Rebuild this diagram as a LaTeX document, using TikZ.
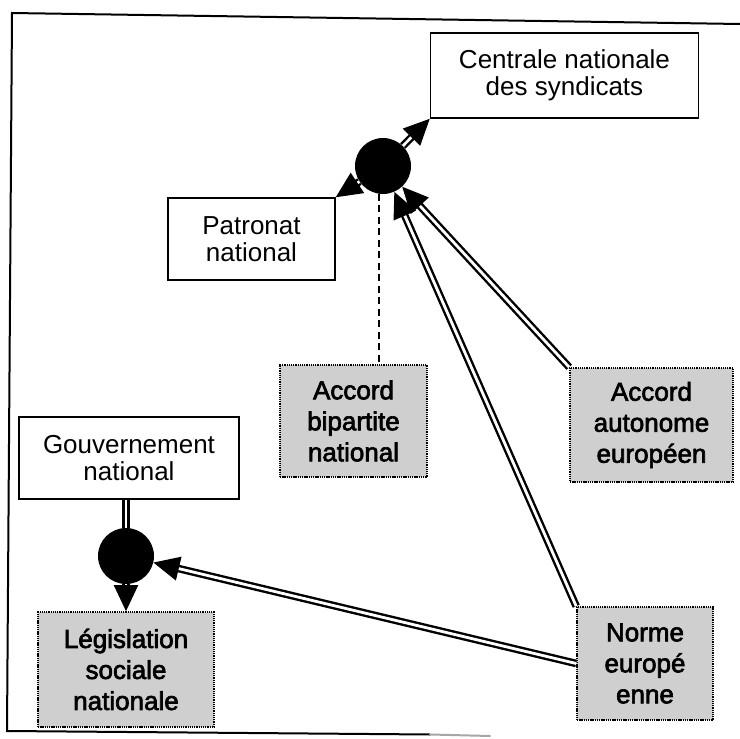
\documentclass[tikz,border=0pt]{standalone}
\usepackage{fontspec}
\setmainfont{Liberation Sans}
\newfontfamily\graytext{Liberation Sans}[FakeBold=2.5]
\usetikzlibrary{arrows.meta,calc}
\tikzset{
  bigtip/.tip={Triangle[length=26pt,width=24pt]},
}
\begin{document}
\begin{tikzpicture}[x=1pt,y=-1pt,
  plainbox/.style={draw=black, line width=1.5pt, fill=white, align=center,
    font=\fontsize{26}{27}\selectfont, inner sep=0pt},
  graybox/.style={draw=black, line width=1.6pt, dash pattern=on 1.3pt off 0.9pt,
    fill=gray!38, align=center, font=\graytext\fontsize{26}{31}\selectfont, inner sep=0pt},
  hub/.style={circle, fill=black, minimum size=56pt, inner sep=0pt},
  dbl/.style={double=white, double distance=2.8pt, line width=2.4pt},
  dblend/.style={dbl, shorten >=16pt},
  tipline/.style={line width=2pt, -bigtip},
  link/.style={draw=black, line width=1.6pt, dash pattern=on 7pt off 4.5pt},
  frame/.style={line width=2pt, line cap=round},
]
\useasboundingbox (0,0) rectangle (740,739);

% outer frame (open on the right)
\draw[frame] (430,734.5) -- (7,731) -- (12,13) -- (740,24);
\draw[frame, draw=gray!70] (430,734.5) -- (490,736);

% boxes
\node[plainbox, minimum width=268pt, minimum height=85pt] (cent) at (564.5,75.5)
  {Centrale nationale\\des syndicats};
\node[plainbox, minimum width=167pt, minimum height=82pt] (pat) at (251.5,239)
  {Patronat\\national};
\node[plainbox, minimum width=220pt, minimum height=82pt] (gouv) at (129,458)
  {Gouvernement\\national};
\node[graybox, minimum width=147pt, minimum height=112pt] (bip) at (353.5,421)
  {Accord\\bipartite\\national};
\node[graybox, minimum width=163pt, minimum height=114pt] (aut) at (651.5,425)
  {Accord\\autonome\\européen};
\node[graybox, minimum width=176pt, minimum height=115pt] (leg) at (126,669.5)
  {Législation\\sociale\\nationale};
\node[graybox, minimum width=136pt, minimum height=113pt] (norm) at (645,663.5)
  {Norme\\europé\\enne};

% hubs
\node[hub] (c1) at (383,166) {};
\node[hub] (c2) at (126,556) {};

% upper hub towards the two national partners
\draw[dblend] (c1) -- (cent.south west);
\draw[tipline] ($(cent.south west)!16pt!(c1)$) -- (cent.south west);
\draw[dblend] (c1) -- (pat.north east);
\draw[tipline] ($(pat.north east)!16pt!(c1)$) -- (pat.north east);

% agreements and norms feeding the upper hub
\draw[link] (c1.262) -- (c1.262 |- bip.north);
\draw[dblend] (aut.north west) -- (c1);
\draw[tipline] ($(c1)!44pt!(aut.north west)$) -- (c1);
\draw[dblend] (norm.north west) -- (c1);
\draw[tipline] ($(c1)!44pt!(norm.north west)$) -- (c1);

% lower hub
\draw[dblend] (norm.west) -- (c2);
\draw[tipline] ($(c2)!44pt!(norm.west)$) -- (c2);
\draw[dbl] (gouv.south -| c2) -- (c2);
\coordinate (legtop) at (c2 |- leg.north);
\draw[dblend] (c2) -- (legtop);
\draw[tipline] ($(legtop)!16pt!(c2)$) -- (legtop);
\end{tikzpicture}
\end{document}
